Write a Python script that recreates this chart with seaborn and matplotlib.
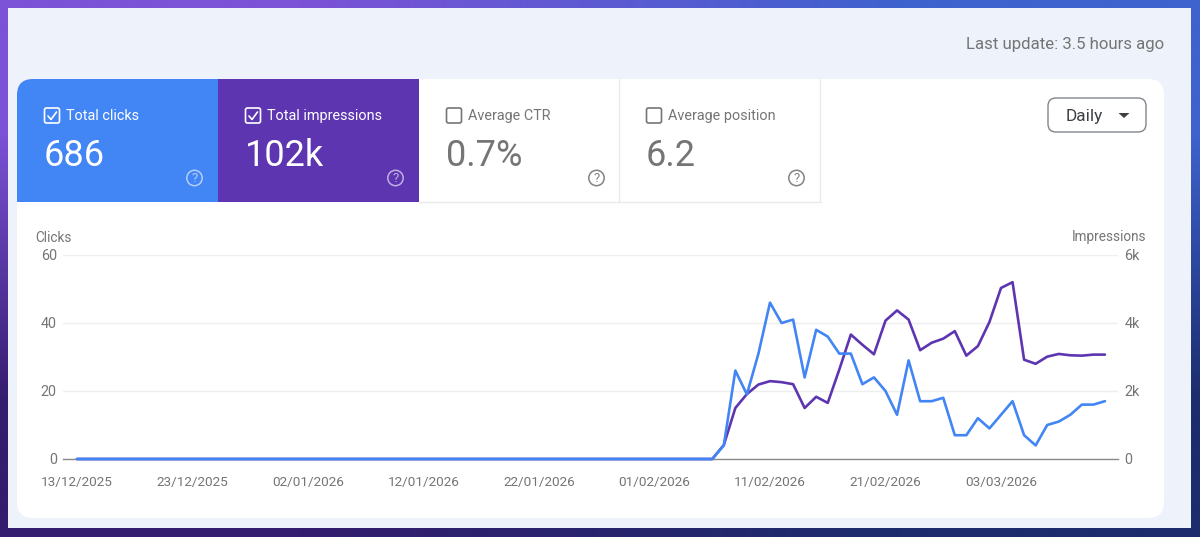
import numpy as np
import pandas as pd
import seaborn as sns
import matplotlib
matplotlib.use("Agg")
import matplotlib.pyplot as plt
import matplotlib.dates as mdates
from matplotlib.patches import FancyBboxPatch, Rectangle, Circle, Polygon

# Dữ liệu
start_date = "2025-12-13"
n_days = 90
flat_days = 56
clicks_tail = [4, 26, 19, 31, 46, 40, 41, 24, 38, 36, 31, 31, 22, 24, 20, 13, 29, 17,
               17, 18, 7, 7, 12, 9, 13, 17, 7, 4, 10, 11, 13, 16, 16, 17]
impressions_tail = [410, 1500, 1910, 2190, 2290, 2260, 2200, 1500, 1830, 1650, 2630, 3660,
                    3360, 3080, 4070, 4370, 4100, 3200, 3420, 3540, 3760, 3040, 3320, 4030,
                    5030, 5200, 2920, 2800, 3010, 3090, 3050, 3040, 3070, 3070]
clicks_ticks = [0, 20, 40, 60]
impressions_ticks = [0, 2000, 4000, 6000]
impressions_labels = ["0", "2k", "4k", "6k"]
card_titles = ["Total clicks", "Total impressions", "Average CTR", "Average position"]
card_values = ["686", "102k", "0.7%", "6.2"]

BLUE = "#4285F4"
PURPLE = "#5E35B1"
GREY = "#757575"

sns.set_theme(style="white")
plt.rcParams["font.family"] = ["Roboto", "DejaVu Sans"]

df = pd.DataFrame({
    "date": pd.date_range(start_date, periods=n_days),
    "clicks": [0] * flat_days + clicks_tail,
    "impressions": [0] * flat_days + impressions_tail,
})

fig = plt.figure(figsize=(12, 5.37), dpi=100)

# Nền và các thẻ, tính theo pixel
bg = fig.add_axes([0, 0, 1, 1])
bg.set_xlim(0, 1200)
bg.set_ylim(537, 0)
bg.axis("off")

corners = np.array([[[0x7C, 0x52, 0xD6], [0x3E, 0x62, 0xCE]],
                    [[0x34, 0x1C, 0x6E], [0x1C, 0x2C, 0x6C]]]) / 255
bg.imshow(corners, extent=(0, 1200, 537, 0), interpolation="bilinear", aspect="auto", zorder=0)
bg.set_xlim(0, 1200)
bg.set_ylim(537, 0)
bg.add_patch(Rectangle((8, 8), 1183, 520, fc="#EEF2FB", ec="none", zorder=1))

card = FancyBboxPatch((17, 79), 1147, 439, boxstyle="round,pad=0,rounding_size=16",
                      fc="white", ec="none", zorder=2)
bg.add_patch(card)

card_x = [17, 218, 419, 619]
card_fill = [BLUE, PURPLE, "white", "white"]
for i, title in enumerate(card_titles):
    x = card_x[i]
    selected = i < 2
    fg = "white" if selected else GREY
    rect = Rectangle((x, 79), 201 if i != 3 else 200, 123, fc=card_fill[i], ec="none", zorder=3)
    bg.add_patch(rect)
    rect.set_clip_path(card)
    # ô chọn
    bg.add_patch(FancyBboxPatch((x + 27.5, 108), 15, 15, boxstyle="round,pad=0,rounding_size=2",
                                fc="none", ec=fg, lw=1.2, zorder=4))
    if selected:
        bg.plot([x + 31, x + 34, x + 39.5], [116, 119.5, 112], color="white", lw=1.2, zorder=5)
    bg.text(x + 49, 116, title, color=fg, fontsize=10.4, va="center", ha="left", zorder=5)
    bg.text(x + 27, 155.5, card_values[i], color=fg, fontsize=26, va="center", ha="left", zorder=5)
    # biểu tượng dấu hỏi
    alpha = 0.6 if selected else 0.9
    bg.add_patch(Circle((x + 177.5, 178), 7.7, fc="none", ec=fg, lw=1.1, alpha=alpha, zorder=5))
    bg.text(x + 177.5, 178.3, "?", color=fg, alpha=alpha, fontsize=9.5, va="center", ha="center", zorder=5)

# đường kẻ giữa các thẻ
bg.plot([619, 619], [79, 202], color="#EAEAEA", lw=1, zorder=4)
bg.plot([820, 820], [79, 202], color="#EAEAEA", lw=1, zorder=4)
bg.plot([419, 821], [201.5, 201.5], color="#EAEAEA", lw=1, zorder=4)

bg.text(1164, 44.5, "Last update: 3.5 hours ago", color=GREY, fontsize=12.1, va="center", ha="right", zorder=5)
bg.add_patch(FancyBboxPatch((1048, 98), 98, 34, boxstyle="round,pad=0,rounding_size=8",
                            fc="white", ec="#80868B", lw=1, zorder=4))
bg.text(1066, 116, "Daily", color="#3C4043", fontsize=12.4, va="center", ha="left", zorder=5)
bg.add_patch(Polygon([[1118.5, 113], [1129.5, 113], [1124, 118]], fc="#3C4043", ec="none", zorder=5))
bg.text(35, 237.5, "Clicks", color=GREY, fontsize=9.8, va="center", ha="left", zorder=5)
bg.text(1146, 237.5, "Impressions", color=GREY, fontsize=9.8, va="center", ha="right", zorder=5)

# Biểu đồ: impressions bên dưới, clicks đè lên trên
ax_imp = fig.add_axes([63 / 1200, (537 - 459) / 537, 1055 / 1200, 204 / 537])
ax_imp.patch.set_alpha(0)
sns.lineplot(data=df, x="date", y="impressions", color=PURPLE, lw=1.9, ax=ax_imp, zorder=3, clip_on=False)
ax_clk = ax_imp.twinx()
ax_clk.patch.set_alpha(0)
sns.lineplot(data=df, x="date", y="clicks", color=BLUE, lw=1.9, ax=ax_clk, zorder=3, clip_on=False)

first = df["date"].iloc[0]
last = df["date"].iloc[-1]
ax_imp.set_xlim(first - pd.Timedelta(days=1.21), last + pd.Timedelta(days=1.13))
ax_imp.set_ylim(0, 6000)
ax_clk.set_ylim(0, 60)

ax_imp.set_yticks(impressions_ticks, impressions_labels)
ax_imp.yaxis.tick_right()
ax_clk.set_yticks(clicks_ticks)
ax_clk.yaxis.tick_left()
ax_imp.set_xticks(df["date"].iloc[::10])
ax_imp.xaxis.set_major_formatter(mdates.DateFormatter("%d/%m/%Y"))
ax_imp.set_xlabel("")
ax_imp.set_ylabel("")
ax_clk.set_xlabel("")
ax_clk.set_ylabel("")

ax_imp.grid(axis="y", color="#EEEEEE", lw=1)
ax_imp.grid(axis="x", visible=False)
ax_imp.tick_params(axis="x", length=0, pad=12.3, labelsize=9.7, labelcolor=GREY)
ax_imp.tick_params(axis="y", length=0, pad=4.5, labelsize=10.4, labelcolor=GREY)
ax_clk.tick_params(axis="y", length=0, pad=4.5, labelsize=10.4, labelcolor=GREY)
for ax in (ax_imp, ax_clk):
    for side in ("top", "left", "right", "bottom"):
        ax.spines[side].set_visible(False)
ax_imp.spines["bottom"].set_visible(True)
ax_imp.spines["bottom"].set_color("#8A8A8A")
ax_imp.spines["bottom"].set_linewidth(1)

fig.savefig("out.png", dpi=100)
